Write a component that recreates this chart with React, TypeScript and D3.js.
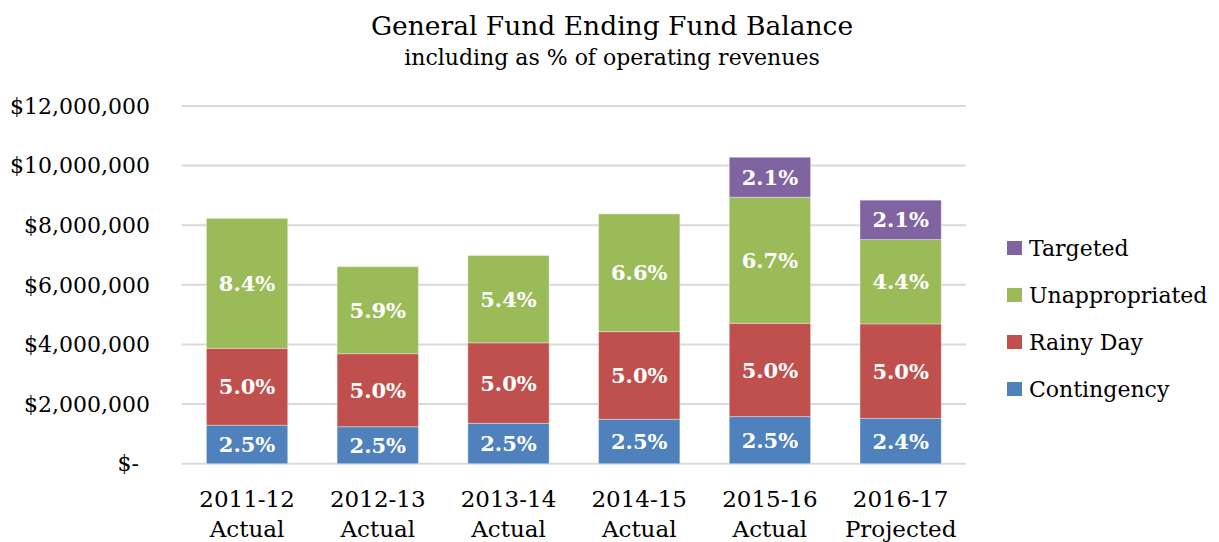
import React from "react";
import * as d3 from "d3";

const categories = ["2011-12|Actual", "2012-13|Actual", "2013-14|Actual", "2014-15|Actual", "2015-16|Actual", "2016-17|Projected"];
const seriesNames = ["Contingency", "Rainy Day", "Unappropriated", "Targeted"];
const contingency = [1290000, 1240000, 1355000, 1490000, 1580000, 1520000];
const rainyDay = [2580000, 2450000, 2700000, 2940000, 3130000, 3170000];
const unappropriated = [4360000, 2920000, 2930000, 3950000, 4230000, 2830000];
const targeted = [0, 0, 0, 0, 1340000, 1320000];
const contingencyPct = ["2.5%", "2.5%", "2.5%", "2.5%", "2.5%", "2.4%"];
const rainyDayPct = ["5.0%", "5.0%", "5.0%", "5.0%", "5.0%", "5.0%"];
const unappropriatedPct = ["8.4%", "5.9%", "5.4%", "6.6%", "6.7%", "4.4%"];
const targetedPct = ["", "", "", "", "2.1%", "2.1%"];
const yTicks = [0, 2000000, 4000000, 6000000, 8000000, 10000000, 12000000];
const colors = ["#4F81BD", "#C0504D", "#9BBB59", "#8064A2"];

const W = 1219;
const H = 542;
const FONT = "'DejaVu Serif', serif";

export default function App() {
  const values = [contingency, rainyDay, unappropriated, targeted];
  const pcts = [contingencyPct, rainyDayPct, unappropriatedPct, targetedPct];
  const x = d3.scaleBand<string>().domain(categories).range([181.7, 966]).paddingInner(0.378).paddingOuter(0.189);
  const y = d3.scaleLinear().domain([0, 12000000]).range([463.7, 106]);
  const fmt = d3.format("$,.0f");

  const rows = categories.map((c, i) => {
    let acc = 0;
    return values.map((s, k) => {
      const v0 = acc;
      acc += s[i];
      return { c, k, v0, v1: acc, v: s[i], label: pcts[k][i] };
    });
  });

  const legendOrder = [3, 2, 1, 0];

  return (
    <svg width={W} height={H} style={{ position: "absolute", left: 0, top: 0, background: "#fff" }}>
      <text x={612} y={35} textAnchor="middle" fontFamily={FONT} fontSize={26.5} fill="#000">General Fund Ending Fund Balance</text>
      <text x={612} y={65} textAnchor="middle" fontFamily={FONT} fontSize={22} fill="#000">including as % of operating revenues</text>
      {yTicks.map((t) => (
        <g key={t}>
          <line x1={181.7} x2={966} y1={y(t)} y2={y(t)} stroke="#D9D9D9" strokeWidth={2} />
          <text x={t === 0 ? 139 : 150} y={y(t)} dy="0.35em" textAnchor="end" fontFamily={FONT} fontSize={22} fill="#000">
            {t === 0 ? "$-" : fmt(t)}
          </text>
        </g>
      ))}
      {rows.map((segs) =>
        segs.filter((s) => s.v > 0).map((s) => (
          <g key={s.c + s.k}>
            <rect x={x(s.c)} y={y(s.v1)} width={x.bandwidth()} height={y(s.v0) - y(s.v1)} fill={colors[s.k]} stroke="#ffffff" strokeOpacity={0.35} strokeWidth={1} />
            <text x={(x(s.c) as number) + x.bandwidth() / 2} y={(y(s.v0) + y(s.v1)) / 2} dy="0.36em" textAnchor="middle" fontFamily={FONT} fontWeight="bold" fontSize={21} fill="#fff">
              {s.label}
            </text>
          </g>
        ))
      )}
      {categories.map((c) => {
        const [a, b] = c.split("|");
        const cx = (x(c) as number) + x.bandwidth() / 2;
        return (
          <text key={c} x={cx} textAnchor="middle" fontFamily={FONT} fontSize={23} fill="#000">
            <tspan x={cx} y={507}>{a}</tspan>
            <tspan x={cx} y={537}>{b}</tspan>
          </text>
        );
      })}
      {legendOrder.map((k, i) => (
        <g key={k} transform={`translate(1007, ${241 + i * 47})`}>
          <rect width={15} height={14} fill={colors[k]} />
          <text x={22} y={7} dy="0.36em" fontFamily={FONT} fontSize={22} fill="#000">{seriesNames[k]}</text>
        </g>
      ))}
    </svg>
  );
}
